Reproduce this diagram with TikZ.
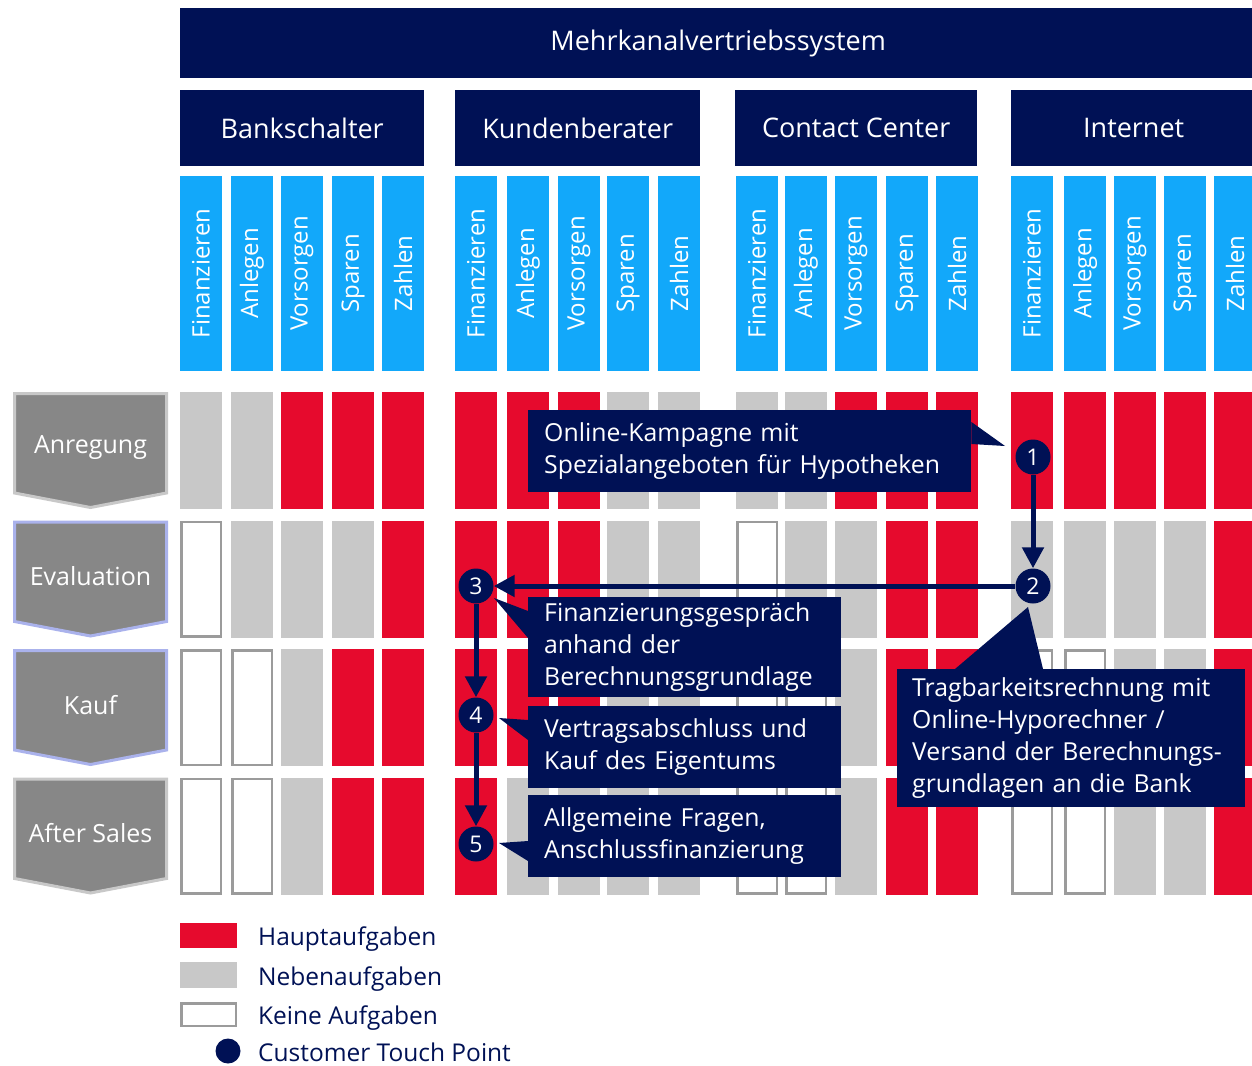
\documentclass[tikz,border=0pt]{standalone}
\usepackage{fontspec}
\setmainfont{Open Sans}
\usetikzlibrary{arrows.meta,calc}
\definecolor{navy}{RGB}{0,17,85}
\definecolor{sky}{RGB}{18,168,250}
\definecolor{hred}{RGB}{230,10,45}
\definecolor{ngray}{RGB}{200,200,200}
\definecolor{ogray}{RGB}{155,155,155}
\definecolor{cgray}{RGB}{135,135,135}
\definecolor{cbA}{RGB}{200,200,200}
\definecolor{cbB}{RGB}{170,178,236}
\colorlet{fR}{hred}\colorlet{dR}{hred}
\colorlet{fG}{ngray}\colorlet{dG}{ngray}
\colorlet{fW}{white}\colorlet{dW}{ogray}
\def\xlist{180,231,281,332,382,455,507,558,607,658,736,785,835,886,936,1011,1064,1114,1164,1214}
\begin{document}
\begin{tikzpicture}[x=1pt,y=-1pt,
  hdr/.style={fill=navy,text=white,inner sep=0pt,anchor=north west,font=\fontsize{27}{32}\selectfont},
  colhead/.style={fill=sky,text=white,inner sep=0pt,rotate=90,minimum width=195pt,minimum height=42pt,font=\fontsize{24}{28}\selectfont},
  chevtext/.style={text=white,inner sep=0pt,font=\fontsize{25}{30}\selectfont},
  callout/.style={fill=navy,text=white,inner ysep=0pt,align=left,anchor=north west,font=\fontsize{24.8}{32}\selectfont},
  tp/.style={circle,fill=navy,text=white,inner sep=0pt,minimum size=35pt,font=\fontsize{23}{23}\selectfont},
  arr/.style={draw=navy,line width=5pt,-{Triangle[width=21pt,length=21pt]}},
  legtext/.style={text=navy,anchor=base west,inner sep=0pt,font=\fontsize{24.5}{30}\selectfont}
]
\useasboundingbox (0,0) rectangle (1252,1065);

% headers
\node[hdr,minimum width=1076pt,minimum height=70pt] (mks) at (180,8) {Mehrkanalvertriebssystem};
\node[hdr,minimum width=244pt,minimum height=76pt] (g1) at (180,90) {Bankschalter};
\node[hdr,minimum width=245pt,minimum height=76pt] (g2) at (455,90) {Kundenberater};
\node[hdr,minimum width=242pt,minimum height=76pt] (g3) at (735,90) {Contact Center};
\node[hdr,minimum width=245pt,minimum height=76pt] (g4) at (1011,90) {Internet};

% column heads
\foreach \xx [count=\i from 0] in \xlist {
  \pgfmathtruncatemacro\k{mod(\i,5)}
  \node[colhead] (col\i) at (\xx+21,273.5) {\ifcase\k Finanzieren\or Anlegen\or Vorsorgen\or Sparen\or Zahlen\fi};
}

% cells
\foreach \yy/\codes in {
  392/{G,G,R,R,R,R,R,R,G,G,G,G,R,R,R,R,R,R,R,R},
  520.5/{W,G,G,G,R,R,R,R,G,G,W,G,G,R,R,G,G,G,G,R},
  649/{W,W,G,R,R,R,R,R,G,G,W,W,G,R,R,W,W,G,G,R},
  777.5/{W,W,G,R,R,R,G,G,G,G,W,W,G,R,R,W,W,G,G,R}} {
  \foreach \c [count=\i from 0] in \codes {
    \pgfmathsetmacro\xx{{\xlist}[\i]}
    \path[fill=f\c,draw=d\c,line width=2.5pt] (\xx+1.25,\yy+1.25) rectangle ++(39.5,114.5);
  }
}

% phase chevrons
\foreach \yy/\bc/\lab [count=\r] in {392/cbA/Anregung,520.5/cbB/Evaluation,649/cbB/Kauf,777.5/cbA/After Sales} {
  \path[fill=cgray,draw=\bc,line width=3pt,line join=miter] (14.5,\yy+1.5) -- (166.5,\yy+1.5) -- (166.5,\yy+101) -- (90.5,\yy+115.5) -- (14.5,\yy+101) -- cycle;
  \node[chevtext] (ph\r) at (90.5,\yy+56) {\lab};
}

% touch point positions
\coordinate (p1) at (1033,457);
\coordinate (p2) at (1033,586);
\coordinate (p3) at (476,586);
\coordinate (p4) at (476,715);
\coordinate (p5) at (476,844);

% callouts
\node[callout,text width=411pt,inner xsep=16pt,minimum height=82pt] (c1) at (528,410) {Online-Kampagne mit\\Spezialangeboten für Hypotheken};
\node[callout,text width=318pt,inner xsep=15pt,minimum height=138pt] (c2) at (897,669) {Tragbarkeitsrechnung mit\\Online-Hyporechner /\\Versand der Berechnungs-\\grundlagen an die Bank};
\node[callout,text width=281pt,inner xsep=16pt,minimum height=100pt] (c3) at (528,597) {Finanzierungsgespräch\\anhand der\\Berechnungsgrundlage};
\node[callout,text width=281pt,inner xsep=16pt,minimum height=82pt] (c4) at (528,706) {Vertragsabschluss und\\Kauf des Eigentums};
\node[callout,text width=281pt,inner xsep=16pt,minimum height=82pt] (c5) at (528,795) {Allgemeine Fragen,\\Anschlussfinanzierung};

\fill[navy] ($(c1.north east)+(0,12)$) -- ($(p1)+(-28,-11)$) -- ($(c1.north east)+(0,34)$) -- cycle;
\fill[navy] ($(c2.north west)+(58,0)$) -- ($(p2)+(-5,21)$) -- ($(c2.north west)+(146,0)$) -- cycle;
\fill[navy] ($(p3)+(18,12)$) -- ($(c3.north west)+(0,14)$) -- ($(c3.north west)+(0,41)$) -- cycle;
\fill[navy] ($(p4)+(23,3)$) -- ($(c4.north west)+(0,14)$) -- ($(c4.north west)+(0,34)$) -- cycle;
\fill[navy] ($(p5)+(23,-1)$) -- ($(c5.north west)+(0,46)$) -- ($(c5.north west)+(0,66)$) -- cycle;

% touch points
\node[tp] (t1) at (p1) {1};
\node[tp] (t2) at (p2) {2};
\node[tp] (t3) at (p3) {3};
\node[tp] (t4) at (p4) {4};
\node[tp] (t5) at (p5) {5};

\draw[arr] (t1) -- (t2);
\draw[arr] (t2) -- (t3);
\draw[arr] (t3) -- (t4);
\draw[arr] (t4) -- (t5);

% legend
\fill[hred] (180,923) rectangle (237,948);
\fill[ngray] (180,962) rectangle (237,988);
\draw[ogray,line width=2.5pt,fill=white] (181.25,1003.25) rectangle (235.75,1025.75);
\node[circle,fill=navy,inner sep=0pt,minimum size=25pt] (legtp) at (228,1051) {};
\node[legtext] (l1) at (258,945) {Hauptaufgaben};
\node[legtext] (l2) at (258,985) {Nebenaufgaben};
\node[legtext] (l3) at (258,1024) {Keine Aufgaben};
\node[legtext] (l4) at (258,1061) {Customer Touch Point};
\end{tikzpicture}
\end{document}
